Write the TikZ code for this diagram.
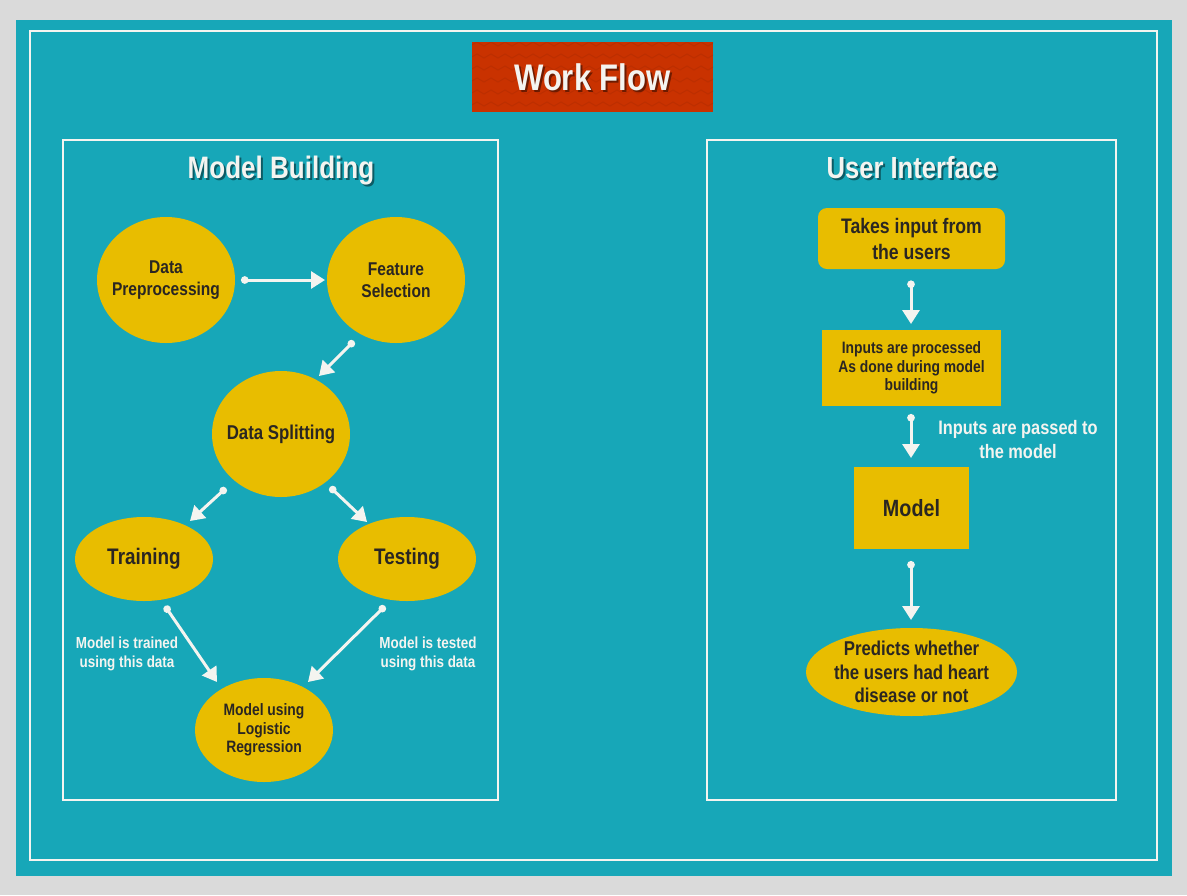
\documentclass[tikz,border=0pt]{standalone}
\usepackage{fontspec}
\setmainfont[FakeStretch=0.84]{Liberation Sans}
\usetikzlibrary{arrows.meta,shapes.geometric}
\definecolor{bggrey}{HTML}{DADADA}
\definecolor{tealbg}{HTML}{17A7B8}
\definecolor{yel}{HTML}{E8BD00}
\definecolor{redbox}{HTML}{C93200}
\definecolor{darktxt}{HTML}{2A2622}
\definecolor{whitetxt}{HTML}{F4F4F0}
\tikzset{
  frame/.style={draw=whitetxt, line width=2.6pt},
  bub/.style={ellipse, fill=yel, inner xsep=-14pt, inner ysep=-14pt, minimum width=138pt, minimum height=126pt, align=center, text=darktxt},
  flatbox/.style={rectangle, fill=yel, inner sep=0pt, align=center, text=darktxt},
  flow/.style={draw=whitetxt, line width=3pt, line cap=round, {Circle[length=7.5pt,width=7.5pt]}-{Triangle[length=14pt,width=17pt]}},
  lbl/.style={text=whitetxt, align=center, font=\fontsize{16}{19}\selectfont\bfseries},
  shadow/.style={text=black, opacity=0.45},
  headfont/.style={font=\fontsize{31}{34}\selectfont\bfseries, anchor=base},
}
\begin{document}
\begin{tikzpicture}[x=1pt,y=-1pt]
\useasboundingbox (0,0) rectangle (1187,895);
\fill[bggrey] (0,0) rectangle (1187,895);
\fill[tealbg] (16,20) rectangle (1172,876);
\draw[frame] (30,31) rectangle (1157,860);

% title
\node[fill=redbox, minimum width=241pt, minimum height=70pt, inner sep=0pt] (titlebox) at (592.5,77) {};
\begin{scope}
\clip (472,42) rectangle (713,112);
\foreach \r in {46,58,...,112}{
  \draw[redbox!82!black, line width=1pt, opacity=0.35]
    (470,\r) \foreach \k in {0,...,17}{ -- ++(7,-4) -- ++(7,4) };
}
\end{scope}
\node[shadow, font=\fontsize{37}{40}\selectfont\bfseries] (titleshadow) at (594.5,79.5) {Work Flow};
\node[text=whitetxt, font=\fontsize{37}{40}\selectfont\bfseries] (title) at (592.5,77) {Work Flow};

% panels
\draw[frame] (63,140) rectangle (498,800);
\draw[frame] (707,140) rectangle (1116,800);
\node[shadow, headfont] (mbshadow) at (283,180) {Model Building};
\node[text=whitetxt, headfont] (mbhead) at (281,178) {Model Building};
\node[shadow, headfont, font=\fontsize{30.5}{34}\selectfont\bfseries] (uishadow) at (914,180) {User Interface};
\node[text=whitetxt, headfont, font=\fontsize{30.5}{34}\selectfont\bfseries] (uihead) at (912,178) {User Interface};

% left nodes
\node[bub, font=\fontsize{18.5}{22}\selectfont\bfseries] (dp) at (166,280) {Data\\Preprocessing};
\node[bub, font=\fontsize{18.5}{22}\selectfont\bfseries] (fs) at (396,280) {Feature\\Selection};
\node[bub, font=\fontsize{20}{24}\selectfont\bfseries] (ds) at (281,434) {Data Splitting};
\node[bub, minimum height=84pt, font=\fontsize{22.5}{26}\selectfont\bfseries] (tr) at (144,559) {Training};
\node[bub, minimum height=84pt, font=\fontsize{22.5}{26}\selectfont\bfseries] (te) at (407,559) {Testing};
\node[bub, minimum height=104pt, font=\fontsize{16.5}{18.7}\selectfont\bfseries] (mlr) at (264,730) {Model using\\Logistic\\Regression};

\draw[flow] ([shift={(75,0)}]dp.center) -- ([shift={(-71,0)}]fs.center);
\draw[flow] ([shift={(-42,61)}]fs.center) -- ([shift={(38,-58)}]ds.center);
\draw[flow] ([shift={(-55,54)}]ds.center) -- ([shift={(46,-38)}]tr.center);
\draw[flow] ([shift={(49,53)}]ds.center) -- ([shift={(-40,-37)}]te.center);
\draw[flow] ([shift={(21,47)}]tr.center) -- ([shift={(-47,-48)}]mlr.center);
\draw[flow] ([shift={(-22,47)}]te.center) -- ([shift={(44,-48)}]mlr.center);

\node[lbl] (trained) at (127,653.5) {Model is trained\\using this data};
\node[lbl] (tested) at (428,653.5) {Model is tested\\using this data};

% right nodes
\node[flatbox, rounded corners=9pt, minimum width=187pt, minimum height=61pt, font=\fontsize{21}{26}\selectfont\bfseries] (takes) at (911.5,238.5) {Takes input from\\the users};
\node[flatbox, minimum width=179pt, minimum height=76pt, font=\fontsize{16.5}{18.5}\selectfont\bfseries] (proc) at (911.5,368) {Inputs are processed\\As done during model\\building};
\node[flatbox, minimum width=115pt, minimum height=82pt, font=\fontsize{23.5}{26}\selectfont\bfseries] (model) at (911.5,508) {Model};
\node[bub, inner xsep=-20pt, inner ysep=-20pt, minimum width=211pt, minimum height=88pt, font=\fontsize{20}{23.5}\selectfont\bfseries] (pred) at (911.5,672) {Predicts whether\\the users had heart\\disease or not};

\draw[flow] ([shift={(-0.5,42)}]takes.center) -- ([shift={(-0.5,-44)}]proc.center);
\draw[flow] ([shift={(-0.5,46)}]proc.center) -- ([shift={(-0.5,-50)}]model.center);
\draw[flow] ([shift={(-0.5,53)}]model.center) -- ([shift={(-0.5,-52)}]pred.center);

\node[lbl, font=\fontsize{19.5}{24}\selectfont\bfseries] (passed) at (1018,440) {Inputs are passed to\\the model};
\end{tikzpicture}
\end{document}
